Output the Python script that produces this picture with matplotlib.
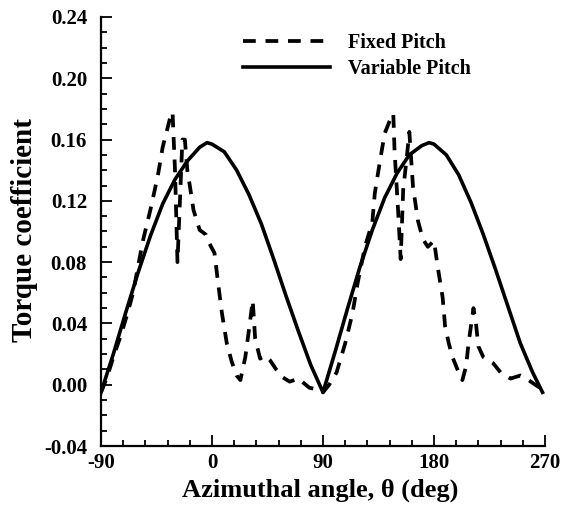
import matplotlib.pyplot as plt
from matplotlib.ticker import MultipleLocator, FormatStrFormatter
from matplotlib.transforms import ScaledTranslation

# Данные: азимутальный угол (град) и коэффициент момента
fixed_theta = [-90, -85, -80, -74, -68, -64, -56, -50, -44, -40, -34, -32,
               -30, -28, -26, -24, -22, -20, -18, -15, -10, -5, -2, 2, 5,
               8, 12, 16, 20, 23, 27, 30, 33, 35, 39, 43, 47, 52, 57, 63,
               70, 79, 85, 90,
               95, 101, 108, 114, 118, 124, 130, 132, 136, 140, 144, 147,
               148, 151, 153, 155, 158, 160, 163, 167, 171, 175, 180, 183,
               187, 189, 192, 195, 199, 203, 206, 208, 212, 214, 216, 220,
               228, 234, 242, 250, 255, 262, 268]
fixed_cq = [-0.005, 0.005, 0.018, 0.032, 0.048, 0.060, 0.094, 0.114, 0.136,
            0.155, 0.174, 0.178,
            0.140, 0.080, 0.120, 0.160, 0.160, 0.140, 0.130, 0.114, 0.101,
            0.098, 0.092, 0.086, 0.066,
            0.047, 0.027, 0.015, 0.006, 0.003, 0.018, 0.036, 0.055, 0.030,
            0.017, 0.019, 0.016, 0.010, 0.005, 0.002,
            0.004, -0.002, -0.003, -0.005,
            0.000, 0.008, 0.027, 0.047, 0.066, 0.090, 0.106, 0.125, 0.145,
            0.164, 0.172, 0.177,
            0.153, 0.112, 0.082, 0.127, 0.149, 0.165, 0.129, 0.107, 0.095,
            0.090, 0.094, 0.077,
            0.057, 0.038, 0.027, 0.018, 0.010, 0.003, 0.012, 0.027, 0.050,
            0.040, 0.025, 0.018,
            0.014, 0.008, 0.004, 0.006, 0.004, 0.000, -0.003]

variable_theta = [-90, -80, -70, -60, -50, -40, -30, -20, -10, -4, 0, 10,
                  20, 30, 40, 50, 60, 70, 80, 90,
                  100, 110, 120, 130, 140, 150, 160, 170, 176, 180, 190,
                  200, 210, 220, 230, 240, 250, 260, 268]
variable_cq = [-0.005, 0.020, 0.047, 0.073, 0.097, 0.118, 0.134, 0.146,
               0.155, 0.158, 0.157, 0.152,
               0.140, 0.124, 0.105, 0.082, 0.058, 0.035, 0.013, -0.005,
               0.022, 0.050, 0.077, 0.101, 0.122, 0.138, 0.150, 0.156, 0.158,
               0.157, 0.150, 0.137, 0.119, 0.098, 0.075, 0.051, 0.027, 0.008,
               -0.005]

plt.rcParams['font.family'] = 'Liberation Serif'
plt.rcParams['font.weight'] = 'bold'
plt.rcParams['axes.unicode_minus'] = False

fig = plt.figure(figsize=(5.63, 5.11), dpi=100)
ax = fig.add_axes([101 / 563, 1 - 446 / 511, 444 / 563, 429 / 511])

ax.plot(fixed_theta, fixed_cq, color='black', lw=2.7, dashes=(3.4, 2.6),
        label='Fixed Pitch')
ax.plot(variable_theta, variable_cq, color='black', lw=2.6,
        label='Variable Pitch')

ax.set_xlim(-90, 270)
ax.set_ylim(-0.04, 0.24)
ax.xaxis.set_major_locator(MultipleLocator(90))
ax.xaxis.set_minor_locator(MultipleLocator(18))
ax.yaxis.set_major_locator(MultipleLocator(0.04))
ax.yaxis.set_minor_locator(MultipleLocator(0.01))
ax.yaxis.set_major_formatter(FormatStrFormatter('%.2f'))

# Только левая и нижняя оси, засечки внутрь
ax.spines['top'].set_visible(False)
ax.spines['right'].set_visible(False)
for s in ('left', 'bottom'):
    ax.spines[s].set_linewidth(1.6)
ax.tick_params(which='both', direction='in', width=1.3, labelsize=15)
ax.tick_params(which='major', length=8)
ax.tick_params(which='minor', length=4)
ax.tick_params(axis='y', pad=10)
ax.tick_params(axis='x', pad=5)

# Подпись -0.04 чуть выше, чтобы не налезала на -90
fig.canvas.draw()
ylabels = ax.get_yticklabels()
ylabels[0].set_transform(ylabels[0].get_transform() +
                         ScaledTranslation(-1 / 100, 3 / 100, fig.dpi_scale_trans))

ax.set_xlabel('Azimuthal angle, \u03b8 (deg)', fontsize=19, fontweight='bold')
ax.set_ylabel('Torque coefficient', fontsize=21, fontweight='bold')
ax.xaxis.set_label_coords(0.493, -0.077)
ax.yaxis.set_label_coords(-0.142, 0.503)

leg = ax.legend(loc='upper left', bbox_to_anchor=(0.28, 1.005), frameon=False,
                fontsize=14.5, handlelength=4.3, handletextpad=0.9,
                labelspacing=0.32)

fig.savefig('out.png', dpi=100)
